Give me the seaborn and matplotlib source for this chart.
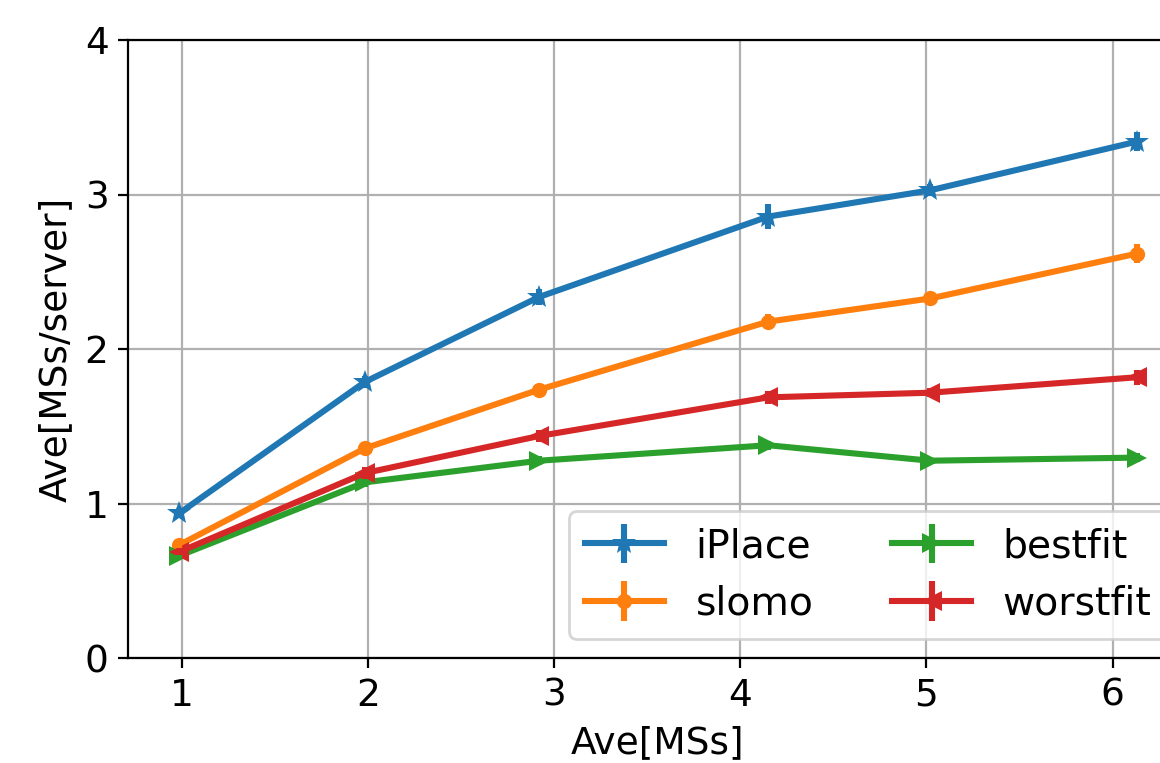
import pandas as pd
import matplotlib
matplotlib.use('Agg')
import matplotlib.pyplot as plt
import seaborn as sns
from matplotlib.legend_handler import HandlerTuple

# Data
ave_mss = [0.987, 1.984, 2.92, 4.15, 5.02, 6.13]
methods = ['iPlace', 'slomo', 'bestfit', 'worstfit']
iplace = [0.94, 1.79, 2.34, 2.86, 3.03, 3.345]
slomo = [0.735, 1.36, 1.74, 2.18, 2.33, 2.62]
bestfit = [0.665, 1.14, 1.28, 1.38, 1.28, 1.30]
worstfit = [0.69, 1.20, 1.44, 1.69, 1.72, 1.82]
iplace_err = [0.02, 0.04, 0.05, 0.08, 0.04, 0.06]
slomo_err = [0.02, 0.03, 0.03, 0.05, 0.03, 0.06]
bestfit_err = [0.02, 0.03, 0.03, 0.03, 0.02, 0.03]
worstfit_err = [0.02, 0.04, 0.04, 0.04, 0.03, 0.05]

values = {'iPlace': iplace, 'slomo': slomo, 'bestfit': bestfit, 'worstfit': worstfit}
errors = {'iPlace': iplace_err, 'slomo': slomo_err, 'bestfit': bestfit_err, 'worstfit': worstfit_err}
markers = {'iPlace': '*', 'slomo': 'o', 'bestfit': '>', 'worstfit': '<'}
marker_sizes = {'iPlace': 9, 'slomo': 5.5, 'bestfit': 7, 'worstfit': 7}

rows = []
for m in methods:
    for x, y in zip(ave_mss, values[m]):
        rows.append({'Ave[MSs]': x, 'value': y, 'method': m})
df = pd.DataFrame(rows)

colors = sns.color_palette('tab10', 4)
palette = dict(zip(methods, colors))

fig = plt.figure(figsize=(5.8, 3.815), dpi=200)
ax = fig.add_axes([0.1103, 0.137, 0.913, 0.81])

sns.lineplot(data=df, x='Ave[MSs]', y='value', hue='method', style='method',
             hue_order=methods, style_order=methods, palette=palette,
             markers=markers, dashes=False, linewidth=2.2, markersize=7,
             markeredgewidth=0, errorbar=None, legend=False, ax=ax)
line_handles = list(ax.lines[:4])
for l, m in zip(line_handles, methods):
    l.set_markersize(marker_sizes[m])

err_handles = []
for m in methods:
    eb = ax.errorbar(ave_mss, values[m], yerr=errors[m], fmt='none',
                     ecolor=palette[m], elinewidth=2.2, capsize=0)
    err_handles.append(eb)

ax.set_xlim(0.711, 6.40)
ax.set_ylim(0, 4)
ax.set_xticks([1, 2, 3, 4, 5, 6])
ax.set_yticks([0, 1, 2, 3, 4])
ax.grid(True, color='#b0b0b0', linewidth=0.8)
ax.tick_params(labelsize=13.5)
ax.set_xlabel('Ave[MSs]', fontsize=13.5)
ax.set_ylabel('Ave[MSs/server]', fontsize=13.5)

ax.legend([(l, e) for l, e in zip(line_handles, err_handles)], methods,
          handler_map={tuple: HandlerTuple(ndivide=1)},
          loc='lower right', ncol=2, fontsize=14.2, handlelength=2.0)

fig.savefig('out.png', dpi=200)
